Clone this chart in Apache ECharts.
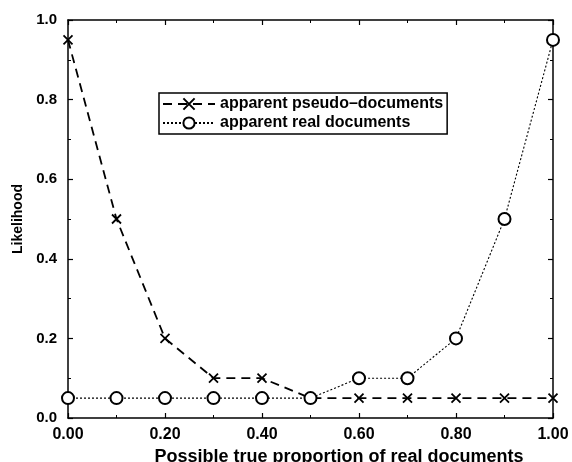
<!DOCTYPE html>
<html>
<head>
<meta charset="utf-8">
<script src="https://cdn.jsdelivr.net/npm/echarts@6/dist/echarts.min.js"></script>
<style>html,body{margin:0;padding:0;background:#fff}#c{width:572px;height:462px}</style>
</head>
<body>
<div id="c"></div>
<script>
var xValues = [0.0, 0.1, 0.2, 0.3, 0.4, 0.5, 0.6, 0.7, 0.8, 0.9, 1.0];
var pseudoDocs = [0.95, 0.50, 0.20, 0.10, 0.10, 0.05, 0.05, 0.05, 0.05, 0.05, 0.05];
var realDocs = [0.05, 0.05, 0.05, 0.05, 0.05, 0.05, 0.10, 0.10, 0.20, 0.50, 0.95];
var seriesNames = ['apparent pseudo\u2013documents', 'apparent real documents'];
var xTicks = [0.0, 0.2, 0.4, 0.6, 0.8, 1.0];
var yTicks = [0.0, 0.2, 0.4, 0.6, 0.8, 1.0];

function pairs(ys) { return xValues.map(function (x, i) { return [x, ys[i]]; }); }

var FONT = 'Liberation Sans, Arial, sans-serif';
var chart = echarts.init(document.getElementById('c'), null, { renderer: 'canvas' });

var axisCommon = {
  type: 'value', min: 0, max: 1, interval: 0.2,
  axisLine: { show: true, onZero: false, lineStyle: { color: '#000', width: 1.5 } },
  axisTick: { show: true, inside: true, length: 5, lineStyle: { color: '#000', width: 1.2 } },
  minorTick: { show: true, splitNumber: 2, length: 3, lineStyle: { color: '#000', width: 1 } },
  splitLine: { show: false }
};
function ext(o) { return Object.assign({}, axisCommon, o); }

chart.setOption({
  animation: false,
  backgroundColor: '#fff',
  grid: { left: 68, top: 20, right: 19, bottom: 44, containLabel: false, outerBoundsMode: 'none' },
  legend: {
    left: 159, top: 93, orient: 'vertical',
    data: seriesNames,
    itemWidth: 52, itemHeight: 14, itemGap: 3,
    padding: [3, 4, 3, 3],
    borderColor: '#000', borderWidth: 1.5, backgroundColor: '#fff',
    textStyle: { fontFamily: FONT, fontSize: 16, fontWeight: 'bold', color: '#000', padding: [0, 0, 0, 0] }
  },
  xAxis: [
    ext({
      position: 'bottom',
      axisLabel: {
        fontFamily: FONT, fontSize: 16, fontWeight: 'bold', color: '#000', margin: 9,
        formatter: function (v) { return xTicks.indexOf(Math.round(v * 10) / 10) >= 0 ? v.toFixed(2) : ''; }
      },
      name: 'Possible true proportion of real documents', nameLocation: 'middle', nameGap: 27,
      nameTextStyle: { fontFamily: FONT, fontSize: 18, fontWeight: 'bold', color: '#000', padding: [0, 0, 0, 57] }
    }),
    ext({ position: 'top', axisLabel: { show: false } })
  ],
  yAxis: [
    ext({
      position: 'left',
      axisLabel: {
        fontFamily: FONT, fontSize: 15, fontWeight: 'bold', color: '#000', margin: 11,
        formatter: function (v) { return yTicks.indexOf(Math.round(v * 10) / 10) >= 0 ? v.toFixed(1) : ''; }
      },
      name: 'Likelihood', nameLocation: 'middle', nameGap: 41, nameRotate: 90,
      nameTextStyle: { fontFamily: FONT, fontSize: 14, fontWeight: 'bold', color: '#000' }
    }),
    ext({ position: 'right', axisLabel: { show: false } })
  ],
  series: [
    {
      name: seriesNames[0], type: 'line', data: pairs(pseudoDocs),
      symbol: 'path://M0,0L10,10M10,0L0,10', symbolSize: 9,
      itemStyle: { color: 'transparent', borderColor: '#000', borderWidth: 1.8 },
      lineStyle: { color: '#000', width: 1.8, type: [9, 6] },
      z: 2
    },
    {
      name: seriesNames[1], type: 'line', data: pairs(realDocs),
      symbol: 'emptyCircle', symbolSize: 12,
      itemStyle: { color: '#000', borderColor: '#000', borderWidth: 1.6 },
      lineStyle: { color: '#000', width: 1.1, type: [2, 2] },
      z: 3
    }
  ]
});
</script>
</body>
</html>
